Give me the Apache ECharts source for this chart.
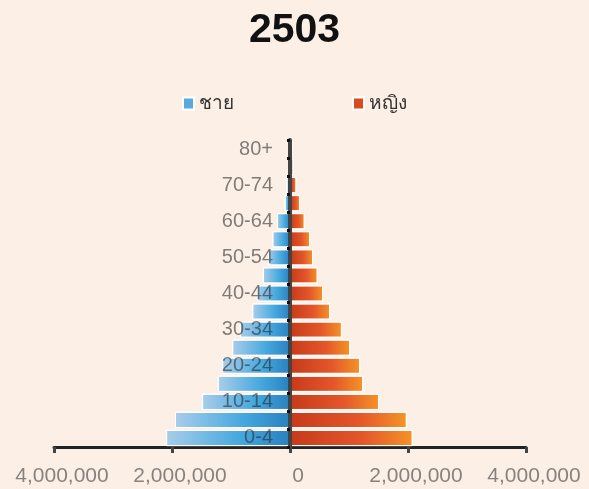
<!DOCTYPE html>
<html>
<head>
<meta charset="utf-8">
<script src="https://cdn.jsdelivr.net/npm/echarts@6/dist/echarts.min.js"></script>
<style>
  html, body { margin: 0; padding: 0; background: #fcefe6; }
  #main { width: 589px; height: 489px; }
</style>
</head>
<body>
<div id="main"></div>
<script>
// กลุ่มอายุ
const ageGroups = ['0-4', '5-9', '10-14', '15-19', '20-24', '25-29', '30-34', '35-39',
  '40-44', '45-49', '50-54', '55-59', '60-64', '65-69', '70-74', '75-79', '80+']
// ชาย (ค่าลบเพื่อวาดทางซ้าย)
const maleValues = [2100000, 1950000, 1490000, 1220000, 1150000, 980000, 850000, 640000,
  560000, 460000, 370000, 300000, 220000, 90000, 60000, 35000, 25000]
// หญิง
const femaleValues = [2080000, 1980000, 1510000, 1240000, 1190000, 1020000, 880000, 680000,
  560000, 470000, 390000, 340000, 250000, 170000, 110000, 60000, 45000]
const xTicks = [-4000000, -2000000, 0, 2000000, 4000000]

const chart = echarts.init(document.getElementById('main'))

const option = {
  backgroundColor: '#fcefe6',
  title: {
    text: '2503',
    left: 'center',
    top: 5,
    textStyle: { fontFamily: 'Liberation Sans', fontSize: 41, fontWeight: 'bold', color: '#111' }
  },
  legend: {
    top: 89,
    left: 'center',
    itemWidth: 11,
    itemHeight: 12,
    itemGap: 118,
    textStyle: { fontFamily: 'Noto Sans', fontSize: 19, color: '#333' },
    data: [
      { name: 'ชาย', icon: 'rect', itemStyle: { color: '#5aa9dd' } },
      { name: 'หญิง', icon: 'rect', itemStyle: { color: '#d94a1e' } }
    ]
  },
  grid: { left: 54, right: 63, top: 140, bottom: 42, containLabel: false },
  xAxis: {
    type: 'value',
    min: xTicks[0],
    max: xTicks[xTicks.length - 1],
    interval: 2000000,
    axisLine: { show: true, lineStyle: { color: '#222', width: 3 } },
    axisTick: { show: true, length: 6, lineStyle: { color: '#444', width: 3 } },
    splitLine: { show: false },
    axisLabel: {
      margin: 19,
      padding: [0, 0, 0, 16],
      fontFamily: 'Liberation Sans',
      fontSize: 21,
      color: 'rgba(40,40,40,0.55)',
      formatter: v => Math.abs(v).toLocaleString('en-US')
    }
  },
  yAxis: {
    type: 'category',
    data: ageGroups,
    z: 10,
    offset: -236,
    axisLine: { show: true, onZero: false, lineStyle: { color: '#444', width: 4 } },
    axisTick: { show: true, length: 3, interval: 0, lineStyle: { color: '#111', width: 3 } },
    axisLabel: {
      interval: 1,
      margin: 17,
      fontFamily: 'Liberation Sans',
      fontSize: 20,
      color: 'rgba(40,40,40,0.58)'
    }
  },
  series: [
    {
      name: 'ชาย',
      type: 'bar',
      stack: 'pop',
      barCategoryGap: '10%',
      data: maleValues.map(v => -v),
      itemStyle: {
        borderColor: '#ffffff',
        borderWidth: 1,
        color: new echarts.graphic.LinearGradient(0, 0, 1, 0, [
          { offset: 0, color: '#a9cdea' },
          { offset: 0.6, color: '#44a8de' },
          { offset: 1, color: '#2a80c0' }
        ])
      }
    },
    {
      name: 'หญิง',
      type: 'bar',
      stack: 'pop',
      barCategoryGap: '10%',
      data: femaleValues,
      itemStyle: {
        borderColor: '#ffffff',
        borderWidth: 1,
        color: new echarts.graphic.LinearGradient(0, 0, 1, 0, [
          { offset: 0, color: '#c63a1a' },
          { offset: 0.6, color: '#e4572a' },
          { offset: 1, color: '#f49426' }
        ])
      }
    }
  ]
}

chart.setOption(option)
</script>
</body>
</html>
